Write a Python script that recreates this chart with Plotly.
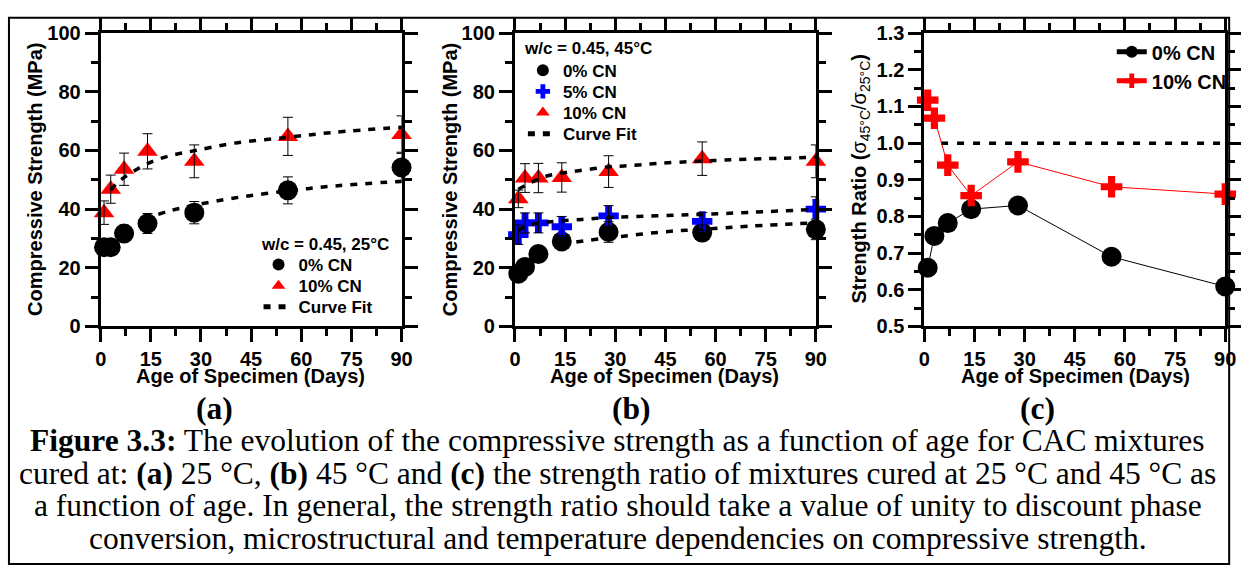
import plotly.graph_objects as go

# ---------------- data ----------------
days = [1, 3, 7, 14, 28, 56, 90]

# (a) 25 C
a_cn0 = [27.0, 27.0, 31.7, 35.1, 38.8, 46.4, 54.2]
a_cn0_err = [1.5, 1.5, 2.8, 3.4, 3.8, 4.6, 5.2]
a_cn10 = [38.8, 46.8, 53.6, 59.7, 56.3, 64.8, 65.4]
a_cn10_err = [4.0, 4.8, 5.5, 6.0, 5.6, 6.5, 6.4]
a_fit10_days = [3, 5, 7, 10, 14, 20, 28, 40, 56, 70, 90]
a_fit10 = [46.5, 49.0, 50.8, 53.0, 55.5, 58.0, 59.9, 62.5, 64.5, 66.2, 67.9]
a_fit0_days = [13, 20, 28, 40, 56, 70, 90]
a_fit0 = [36.4, 39.2, 41.3, 43.8, 46.2, 47.9, 49.5]

# (b) 45 C
b_cn0 = [18.0, 20.3, 24.7, 29.0, 32.2, 32.0, 33.1]
b_cn0_err = [1.0, 1.0, 1.2, 2.0, 3.5, 2.6, 3.5]
b_cn5 = [31.3, 35.3, 35.3, 34.0, 37.7, 35.8, 40.0]
b_cn5_err = [3.3, 3.4, 3.4, 3.5, 3.5, 3.0, 4.2]
b_cn10 = [43.5, 50.6, 50.6, 50.8, 52.8, 57.2, 56.3]
b_cn10_err = [3.0, 4.9, 5.0, 5.0, 5.4, 5.7, 5.6]
b_fit10_days = [1, 5, 9, 14, 19, 28, 34, 43, 56, 70, 90]
b_fit10 = [46.8, 49.2, 51.1, 52.3, 53.1, 54.4, 54.8, 55.6, 56.4, 57.0, 57.7]
b_fit5_days = [1, 3, 5, 10, 20, 29, 39, 49, 56, 70, 90]
b_fit5 = [32.6, 34.0, 34.8, 35.6, 36.5, 37.2, 37.6, 38.0, 38.2, 38.9, 39.9]
b_fit0_days = [14, 18, 31, 46, 56, 70, 90]
b_fit0 = [27.7, 28.7, 30.6, 32.4, 33.1, 34.2, 35.3]

# (c) strength ratio
c_cn0 = [0.66, 0.747, 0.782, 0.82, 0.83, 0.69, 0.609]
c_cn10 = [1.117, 1.068, 0.94, 0.857, 0.949, 0.881, 0.861]
c_unity_days = [5, 90]
c_unity = [1.0, 1.0]

x_ticks = [0, 15, 30, 45, 60, 75, 90]

# ---------------- styling ----------------
W, H = 1252, 576
SANS = "Liberation Sans, Arial, sans-serif"
SERIF = "Liberation Serif, Times New Roman, serif"
RED, BLUE, BLACK = "#ff0000", "#0000ff", "#000000"
FIT = dict(color=BLACK, width=3.5, dash="7px,8px")


def px_x(p):
    return p / W


def px_y(p):
    return 1 - p / H


fig = go.Figure()


def add_markers(x, y, name, sym, color, size, xa, ya, legend, show=True):
    fig.add_trace(go.Scatter(x=x, y=y, mode="markers", name=name,
                             marker=dict(symbol=sym, color=color, size=size, line=dict(width=0)),
                             xaxis=xa, yaxis=ya, legend=legend, showlegend=show,
                             cliponaxis=False))


def add_err(x, y, err, xa, ya):
    fig.add_trace(go.Scatter(x=x, y=y, mode="markers", marker=dict(size=1, opacity=0),
                             error_y=dict(type="data", array=err, color=BLACK, thickness=1, width=5),
                             xaxis=xa, yaxis=ya, showlegend=False, hoverinfo="skip",
                             cliponaxis=False))


def add_fit(x, y, xa, ya, legend, show):
    fig.add_trace(go.Scatter(x=x, y=y, mode="lines", name="Curve Fit", line=dict(**FIT, shape="spline"),
                             xaxis=xa, yaxis=ya, legend=legend, showlegend=show, hoverinfo="skip"))


# panel a
add_markers(days, a_cn0, "0% CN", "circle", BLACK, 20, "x", "y", "legend")
add_markers(days, a_cn10, "10% CN", "triangle-up", RED, 18, "x", "y", "legend2")
add_err(days, a_cn0, a_cn0_err, "x", "y")
add_err(days, a_cn10, a_cn10_err, "x", "y")
add_fit(a_fit10_days, a_fit10, "x", "y", "legend3", True)
add_fit(a_fit0_days, a_fit0, "x", "y", "legend3", False)

# panel b
add_markers(days, b_cn0, "0% CN", "circle", BLACK, 20, "x2", "y2", "legend4")
add_markers(days, b_cn5, "5% CN", "cross", BLUE, 17, "x2", "y2", "legend5")
add_markers(days, b_cn10, "10% CN", "triangle-up", RED, 18, "x2", "y2", "legend6")
add_err(days, b_cn0, b_cn0_err, "x2", "y2")
add_err(days, b_cn5, b_cn5_err, "x2", "y2")
add_err(days, b_cn10, b_cn10_err, "x2", "y2")
add_fit(b_fit10_days, b_fit10, "x2", "y2", "legend7", True)
add_fit(b_fit5_days, b_fit5, "x2", "y2", "legend7", False)
add_fit(b_fit0_days, b_fit0, "x2", "y2", "legend7", False)

# panel c
fig.add_trace(go.Scatter(x=c_unity_days, y=c_unity, mode="lines",
                         line=dict(color=BLACK, width=3.5, dash="7px,9px"),
                         xaxis="x3", yaxis="y3", showlegend=False, hoverinfo="skip"))
fig.add_trace(go.Scatter(x=days, y=c_cn0, mode="lines+markers", name="0% CN",
                         line=dict(color=BLACK, width=1),
                         marker=dict(symbol="circle", color=BLACK, size=20),
                         xaxis="x3", yaxis="y3", legend="legend8", cliponaxis=False))
fig.add_trace(go.Scatter(x=days, y=c_cn10, mode="lines+markers", name="10% CN",
                         line=dict(color=RED, width=1),
                         marker=dict(symbol="cross", color=RED, size=18),
                         xaxis="x3", yaxis="y3", legend="legend8", cliponaxis=False))

tickfont = dict(family=SANS, size=20, color=BLACK, weight="bold")


def xaxis(dom, anchor):
    return dict(domain=dom, anchor=anchor, range=[0, 90], tickvals=x_ticks,
                ticks="outside", ticklen=13, tickwidth=3, tickcolor=BLACK,
                showline=True, linewidth=3, linecolor=BLACK, mirror="ticks",
                showgrid=False, zeroline=False, tickfont=tickfont,
                minor=dict(dtick=7.5, tick0=0, ticks="outside", ticklen=7, tickwidth=3,
                           tickcolor=BLACK, showgrid=False))


def yaxis(dom, anchor, rng, dt, mdt, fmt=None):
    d = dict(domain=dom, anchor=anchor, range=rng, dtick=dt, tick0=rng[0],
             ticks="outside", ticklen=13, tickwidth=3, tickcolor=BLACK,
             showline=True, linewidth=3, linecolor=BLACK, mirror="ticks",
             showgrid=False, zeroline=False, tickfont=tickfont,
             minor=dict(dtick=mdt, tick0=rng[0], ticks="outside", ticklen=7, tickwidth=3,
                        tickcolor=BLACK, showgrid=False))
    if fmt:
        d["tickformat"] = fmt
    return d


ydom = [px_y(328), px_y(23)]
xa_dom = [px_x(96), px_x(401)]
xb_dom = [px_x(516), px_x(821)]
xc_dom = [px_x(931), px_x(1236)]

leg_font = dict(family=SANS, size=17, color=BLACK, weight="bold")


def one_legend(xl, yc, font=leg_font):
    return dict(x=px_x(xl), y=px_y(yc), xanchor="left", yanchor="middle",
                bgcolor="rgba(0,0,0,0)", font=font, itemsizing="constant",
                tracegroupgap=0)


fig.update_layout(
    width=W, height=H,
    margin=dict(l=0, r=0, t=0, b=0),
    paper_bgcolor="white", plot_bgcolor="white",
    showlegend=True,
    xaxis=xaxis(xa_dom, "y"), yaxis=yaxis(ydom, "x", [0, 100], 20, 10),
    xaxis2=xaxis(xb_dom, "y2"), yaxis2=yaxis(ydom, "x2", [0, 100], 20, 10),
    xaxis3=xaxis(xc_dom, "y3"), yaxis3=yaxis(ydom, "x3", [0.5, 1.3], 0.1, 0.05, ".1f"),
    legend=one_legend(256, 264),
    legend2=one_legend(256, 286),
    legend3=one_legend(256, 308),
    legend4=one_legend(524, 62),
    legend5=one_legend(524, 84),
    legend6=one_legend(524, 106),
    legend7=one_legend(524, 128),
    legend8=one_legend(1121, 57.5, dict(family=SANS, size=20, color=BLACK, weight="bold")),
)

ann = []
title_font = dict(family=SANS, size=20, color=BLACK, weight="bold")
for cx in [248, 668, 1084]:
    ann.append(dict(text="Age of Specimen (Days)", x=px_x(cx), y=px_y(380), xref="paper", yref="paper",
                    showarrow=False, xanchor="center", yanchor="middle", font=title_font))
for cx in [30, 450]:
    ann.append(dict(text="Compressive Strength (MPa)", x=px_x(cx), y=px_y(175), xref="paper", yref="paper",
                    showarrow=False, textangle=-90, xanchor="center", yanchor="middle", font=title_font))
ann.append(dict(text="Strength Ratio (<span style='font-weight:normal'>σ<sub>45°C</sub>/σ<sub>25°C</sub></span>)",
                x=px_x(866), y=px_y(175), xref="paper", yref="paper",
                showarrow=False, textangle=-90, xanchor="center", yanchor="middle", font=title_font))
# legend titles
ann.append(dict(text="w/c = 0.45, 25°C", x=px_x(256), y=px_y(243), xref="paper", yref="paper",
                showarrow=False, xanchor="left", yanchor="middle", font=leg_font))
ann.append(dict(text="w/c = 0.45, 45°C", x=px_x(523), y=px_y(39), xref="paper", yref="paper",
                showarrow=False, xanchor="left", yanchor="middle", font=leg_font))

cap_font = dict(family=SERIF, size=31.5, color=BLACK)
for lbl, cx in [("(a)", 211), ("(b)", 634), ("(c)", 1046)]:
    ann.append(dict(text="<b>" + lbl + "</b>", x=px_x(cx), y=px_y(413), xref="paper", yref="paper",
                    showarrow=False, xanchor="center", yanchor="middle", font=cap_font))
caption = [
    ("<b>Figure 3.3:</b> The evolution of the compressive strength as a function of age for CAC mixtures", 447),
    ("cured at: <b>(a)</b> 25 °C, <b>(b)</b> 45 °C and <b>(c)</b> the strength ratio of mixtures cured at 25 °C and 45 °C as", 481),
    ("a function of age. In general, the strength ratio should take a value of unity to discount phase", 514),
    ("conversion, microstructural and temperature dependencies on compressive strength.", 548),
]
for txt, cy in caption:
    ann.append(dict(text=txt, x=px_x(620), y=px_y(cy), xref="paper", yref="paper",
                    showarrow=False, xanchor="center", yanchor="middle", font=cap_font))

fig.update_layout(annotations=ann)
fig.add_shape(type="rect", xref="paper", yref="paper",
              x0=px_x(3), x1=px_x(1240), y0=px_y(575), y1=px_y(7),
              line=dict(color=BLACK, width=2), layer="above")

fig.write_html("out.html")
